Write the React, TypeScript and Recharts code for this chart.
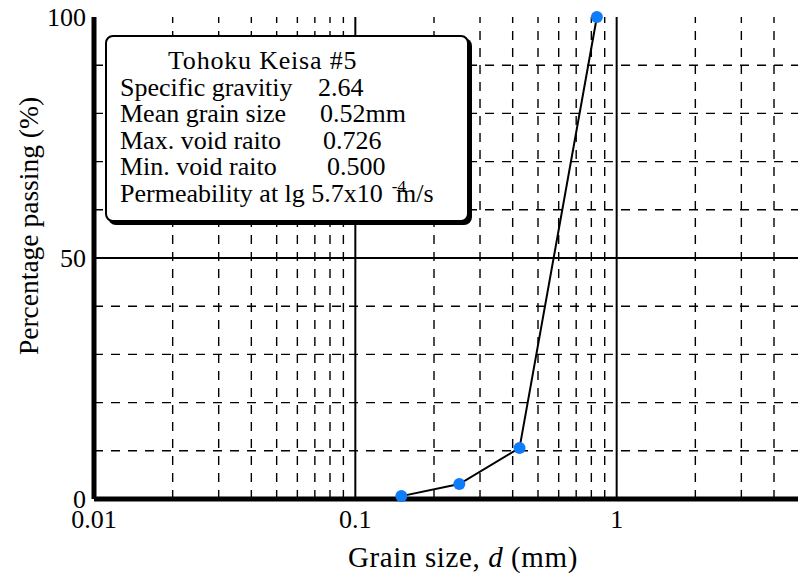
import React from 'react';
import { LineChart, Line, XAxis, YAxis, ReferenceLine, Label } from 'recharts';

// grain size distribution, Tohoku Keisa #5
const grainSize = [0.15, 0.25, 0.425, 0.84];
const passing = [0.6, 3.1, 10.6, 100];

const xTicks = [0.01, 0.1, 1];
const yTicks = [0, 50, 100];
const xMajor = [0.1, 1];
const xMinor = [0.02, 0.03, 0.04, 0.05, 0.06, 0.07, 0.08, 0.09, 0.2, 0.3, 0.4, 0.5, 0.6, 0.7, 0.8, 0.9, 2, 3, 4, 5, 6, 7, 8, 9];
const yMajor = [50];
const yMinor = [10, 20, 30, 40, 60, 70, 80, 90];

const infoTitle = 'Tohoku Keisa #5';
const infoLabels = ['Specific gravitiy', 'Mean grain size', 'Max. void raito', 'Min. void raito'];
const infoValues = ['2.64', '0.52mm', '0.726', '0.500'];

const data = grainSize.map((d, i) => ({ d, p: passing[i] }));

const FONT = "'Liberation Serif', 'Times New Roman', serif";
const valueX = [211, 213, 216, 220];

const App: React.FC = () => {
  return (
    <div style={{ position: 'absolute', left: 0, top: 0, width: 798, height: 578, overflow: 'hidden', background: '#fff', fontFamily: FONT }}>
      <LineChart width={900} height={578} data={data} margin={{ top: 17, right: 22, left: 0, bottom: 0 }}>
        <XAxis
          dataKey="d"
          type="number"
          scale="log"
          domain={[0.01, 10]}
          ticks={xTicks}
          allowDataOverflow
          height={79}
          tickLine={false}
          tickSize={6}
          tickMargin={5}
          axisLine={{ stroke: '#000', strokeWidth: 5 }}
          tick={{ fill: '#000', fontSize: 26, fontFamily: FONT }}
          tickFormatter={(v: number) => String(v)}
        >
          <Label
            content={() => (
              <text x={463} y={567} textAnchor="middle" fontSize={29} letterSpacing={0.6} fontFamily={FONT} fill="#000">
                Grain size, <tspan fontStyle="italic">d</tspan> (mm)
              </text>
            )}
          />
        </XAxis>
        <XAxis xAxisId="top" orientation="top" type="number" domain={[0.01, 10]} scale="log" height={0} tick={false} tickLine={false} axisLine={{ stroke: '#000', strokeWidth: 5 }} />
        <YAxis
          type="number"
          domain={[0, 100]}
          ticks={yTicks}
          width={94}
          tickLine={false}
          tickSize={4}
          tickMargin={4}
          axisLine={{ stroke: '#000', strokeWidth: 5 }}
          tick={{ fill: '#000', fontSize: 26, fontFamily: FONT }}
        >
          <Label
            content={() => (
              <text x={38} y={226} transform="rotate(-90 38 226)" textAnchor="middle" fontSize={27.5} fontFamily={FONT} fill="#000">
                Percentage passing (%)
              </text>
            )}
          />
        </YAxis>
        {xMinor.map((v) => (
          <ReferenceLine key={`xm-${v}`} x={v} stroke="#000" strokeWidth={1.4} strokeDasharray="9 8" />
        ))}
        {yMinor.map((v) => (
          <ReferenceLine key={`ym-${v}`} y={v} stroke="#000" strokeWidth={1.4} strokeDasharray="9 8" />
        ))}
        {xMajor.map((v) => (
          <ReferenceLine key={`xM-${v}`} x={v} stroke="#000" strokeWidth={2} />
        ))}
        {yMajor.map((v) => (
          <ReferenceLine key={`yM-${v}`} y={v} stroke="#000" strokeWidth={2} />
        ))}
        <Line
          dataKey="p"
          stroke="#000"
          strokeWidth={2}
          dot={{ r: 6, fill: '#0d7dfa', stroke: 'none' }}
          isAnimationActive={false}
        />
      </LineChart>
      <div
        style={{
          position: 'absolute',
          left: 105,
          top: 35,
          width: 360,
          height: 183,
          border: '2px solid #000',
          borderRadius: 8,
          boxShadow: '3px 3px 0 #000',
          background: '#fff',
          fontSize: 26,
          lineHeight: '26.6px',
          color: '#000',
        }}
      >
        <div style={{ position: 'absolute', left: 61, top: 11, whiteSpace: 'nowrap', letterSpacing: 0.8 }}>{infoTitle}</div>
        {infoLabels.map((t, i) => (
          <React.Fragment key={t}>
            <div style={{ position: 'absolute', left: 13, top: 11 + 26.6 * (i + 1), whiteSpace: 'nowrap' }}>{t}</div>
            <div style={{ position: 'absolute', left: valueX[i], top: 11 + 26.6 * (i + 1), whiteSpace: 'nowrap' }}>{infoValues[i]}</div>
          </React.Fragment>
        ))}
        <div style={{ position: 'absolute', left: 13, top: 11 + 26.6 * 5, whiteSpace: 'nowrap' }}>
          Permeability at lg 5.7x10
          <span style={{ fontSize: 17, verticalAlign: 'super', lineHeight: 0, marginLeft: 9 }}>-4</span>
          <span style={{ marginLeft: -10 }}>m/s</span>
        </div>
      </div>
    </div>
  );
};

export default App;
